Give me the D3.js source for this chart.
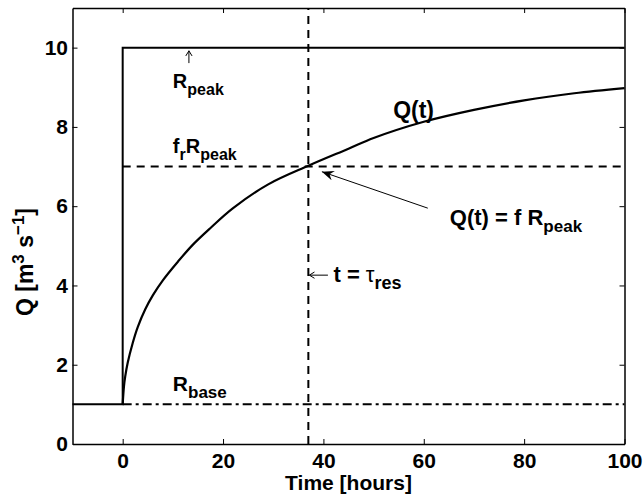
<!DOCTYPE html>
<html>
<head>
<meta charset="utf-8">
<script src="https://cdn.jsdelivr.net/npm/d3@7"></script>
<style>
  body { margin: 0; background: #fff; }
  svg { font-family: "Liberation Sans", Arial, Helvetica, sans-serif; font-weight: bold; }
</style>
</head>
<body>
<div id="chart"></div>
<script>
// curve
const timeHours = [0, 0.25, 0.5, 1, 2, 3, 4.5, 6, 8, 11, 14, 17.5, 22, 29, 37, 45, 50, 60, 70, 80, 90, 100];
const flowQ = [1, 1.45, 1.7, 2.05, 2.55, 2.95, 3.4, 3.75, 4.13, 4.6, 5.03, 5.45, 5.95, 6.55, 7.02, 7.45, 7.72, 8.13, 8.43, 8.67, 8.85, 8.98];

// recharge step
const stepTime = [-10, 0, 0, 100];
const stepQ = [1, 1, 10, 10];

const baseQ = 1;
const fracPeakQ = 7;
const tauRes = 37;

const xTicks = [0, 20, 40, 60, 80, 100];
const yTicks = [0, 2, 4, 6, 8, 10];

const width = 644;
const height = 500;
const margin = { top: 8, right: 19.5, bottom: 56, left: 72.5 };

const svg = d3.select('#chart')
  .append('svg')
  .attr('width', width)
  .attr('height', height);

const x = d3.scaleLinear().domain([-10, 100]).range([margin.left, width - margin.right]);
const y = d3.scaleLinear().domain([0, 11]).range([height - margin.bottom, margin.top]);

const line = d3.line().x(d => x(d[0])).y(d => y(d[1]));

// arrowhead for the long pointer
svg.append('defs').append('marker')
  .attr('id', 'head')
  .attr('viewBox', '0 0 12 10')
  .attr('refX', 12)
  .attr('refY', 5)
  .attr('markerWidth', 12)
  .attr('markerHeight', 10)
  .attr('markerUnits', 'userSpaceOnUse')
  .attr('orient', 'auto')
  .append('path')
  .attr('d', 'M0,0 L12,5 L0,10 L4,5 Z')
  .attr('fill', '#000');

// axes, ticks pointing inwards on all four sides
const fontSize = 21;
svg.append('g')
  .attr('transform', `translate(0,${y(0)})`)
  .call(d3.axisBottom(x).tickValues(xTicks).tickSizeInner(-5).tickSizeOuter(0).tickPadding(9.5))
  .call(g => g.selectAll('text').style('font-size', fontSize + 'px'));
svg.append('g')
  .attr('transform', `translate(0,${y(11)})`)
  .call(d3.axisTop(x).tickValues(xTicks).tickSizeInner(-5).tickSizeOuter(0).tickFormat(''));
svg.append('g')
  .attr('transform', `translate(${x(-10)},0)`)
  .call(d3.axisLeft(y).tickValues(yTicks).tickSizeInner(-5).tickSizeOuter(0).tickPadding(4.5))
  .call(g => g.selectAll('text').style('font-size', fontSize + 'px'));
svg.append('g')
  .attr('transform', `translate(${x(100)},0)`)
  .call(d3.axisRight(y).tickValues(yTicks).tickSizeInner(-5).tickSizeOuter(0).tickFormat(''));

svg.selectAll('.domain').attr('stroke-width', 1.5);
svg.selectAll('.tick line').attr('stroke-width', 1);
svg.selectAll('.tick text').attr('fill', '#000');

// reference lines
svg.append('path')
  .attr('d', line([[0, fracPeakQ], [100, fracPeakQ]]))
  .attr('fill', 'none').attr('stroke', '#000').attr('stroke-width', 2)
  .attr('stroke-dasharray', '8,6');
svg.append('path')
  .attr('d', line([[tauRes, 0], [tauRes, 11]]))
  .attr('fill', 'none').attr('stroke', '#000').attr('stroke-width', 2)
  .attr('stroke-dasharray', '8,6');
svg.append('path')
  .attr('d', line([[0, baseQ], [100, baseQ]]))
  .attr('fill', 'none').attr('stroke', '#000').attr('stroke-width', 2)
  .attr('stroke-dasharray', '9,4,3,4');

// step and response
svg.append('path')
  .attr('d', line(stepTime.map((t, i) => [t, stepQ[i]])))
  .attr('fill', 'none').attr('stroke', '#000').attr('stroke-width', 2);

const curve = d3.line().x(d => x(d[0])).y(d => y(d[1])).curve(d3.curveCatmullRom.alpha(0.5));
svg.append('path')
  .attr('d', curve(timeHours.map((t, i) => [t, flowQ[i]])))
  .attr('fill', 'none').attr('stroke', '#000').attr('stroke-width', 2.2);

// text with subscripts
function label(tx, ty, parts, size, subSize) {
  const t = svg.append('text')
    .attr('x', x(tx))
    .attr('y', y(ty))
    .style('font-size', size + 'px');
  let shift = 0;
  parts.forEach(([str, kind, weight]) => {
    const want = kind === 'sub' ? 7 : 0;
    t.append('tspan')
      .attr('dy', want - shift)
      .style('font-size', (kind === 'sub' ? subSize : size) + 'px')
      .style('font-weight', weight || 'bold')
      .text(str);
    shift = want;
  });
  return t;
}

label(10, 8.98, [['R'], ['peak', 'sub']], 20, 16);
label(10, 7.33, [['f'], ['r', 'sub'], ['R'], ['peak', 'sub']], 20, 16);
label(53.9, 8.22, [['Q(t)']], 23, 16);
label(65.2, 5.52, [['Q(t) = f R'], ['peak', 'sub']], 22, 17);
label(42, 4.09, [['t = '], ['τ', '', 'normal'], ['res', 'sub']], 22, 18);
label(10, 1.34, [['R'], ['base', 'sub']], 21, 17);

// thin pointers
function thinArrow(x0, y0, x1, y1) {
  const a = Math.atan2(y1 - y0, x1 - x0);
  const h = 6;
  const w = 0.55;
  const p = d3.path();
  p.moveTo(x0, y0);
  p.lineTo(x1, y1);
  p.moveTo(x1 - h * Math.cos(a - w), y1 - h * Math.sin(a - w));
  p.lineTo(x1, y1);
  p.lineTo(x1 - h * Math.cos(a + w), y1 - h * Math.sin(a + w));
  svg.append('path').attr('d', p.toString())
    .attr('fill', 'none').attr('stroke', '#000').attr('stroke-width', 1);
}
thinArrow(x(13.2), y(9.61), x(13.2), y(9.92));
thinArrow(x(40.9), y(4.26), x(37.2), y(4.26));

svg.append('path')
  .attr('d', line([[60.8, 5.95], [39.7, 6.87]]))
  .attr('fill', 'none').attr('stroke', '#000').attr('stroke-width', 1)
  .attr('marker-end', 'url(#head)');

// axis titles
svg.append('text')
  .attr('x', (x(-10) + x(100)) / 2)
  .attr('y', 490)
  .attr('text-anchor', 'middle')
  .style('font-size', '21px')
  .text('Time [hours]');

const yl = svg.append('text')
  .attr('transform', 'translate(33,262) rotate(-90)')
  .attr('text-anchor', 'middle')
  .style('font-size', '23px');
yl.append('tspan').text('Q [m');
yl.append('tspan').attr('dy', -9).style('font-size', '17px').text('3');
yl.append('tspan').attr('dy', 9).text(' s');
yl.append('tspan').attr('dy', -9).style('font-size', '17px').text('−1');
yl.append('tspan').attr('dy', 9).text(']');
</script>
</body>
</html>
